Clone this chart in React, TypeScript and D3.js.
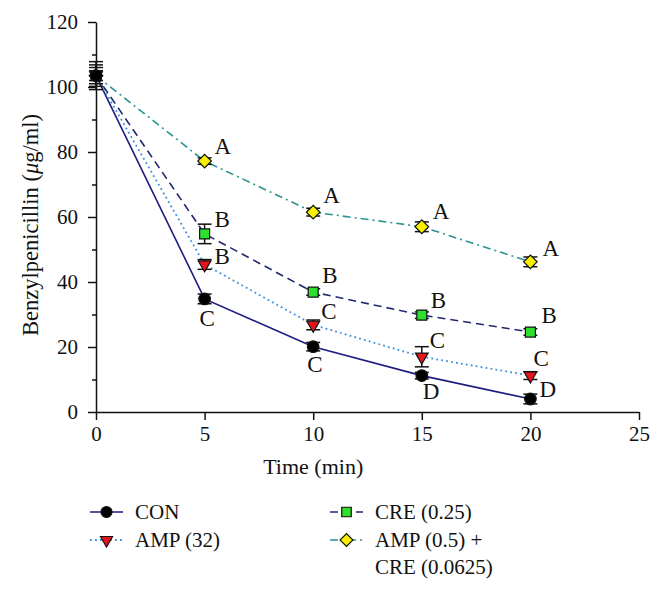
import React, { useEffect, useRef } from 'react';
import { axisBottom, axisLeft, line, range, scaleLinear, select, symbol, symbolCircle, symbolSquare, symbolTriangle } from 'd3';

// time points (min)
const times = [0, 5, 10, 15, 20];

// series values
const conValues = [103.5, 34.8, 20.1, 11.2, 4.0];
const conErrors = [4.3, 1.5, 1.3, 1.0, 1.5];
const ampValues = [103.5, 45.4, 26.8, 17.0, 11.2];
const ampErrors = [3.3, 1.5, 1.5, 3.1, 1.2];
const creValues = [103.5, 54.8, 36.9, 29.8, 24.6];
const creErrors = [2.5, 3.0, 1.0, 1.0, 1.0];
const comboValues = [103.5, 77.2, 61.5, 57.0, 46.2];
const comboErrors = [1.5, 1.0, 1.2, 1.5, 1.5];

// significance letters
const conLetters = ['', 'C', 'C', 'D', 'D'];
const ampLetters = ['', 'B', 'C', 'C', 'C'];
const creLetters = ['', 'B', 'B', 'B', 'B'];
const comboLetters = ['', 'A', 'A', 'A', 'A'];

const seriesNames = ['CON', 'AMP (32)', 'CRE (0.25)', 'AMP (0.5) +|CRE (0.0625)'];

const xTicks = [0, 5, 10, 15, 20, 25];
const yTicks = [0, 20, 40, 60, 80, 100, 120];

const W = 662, H = 589;
const margin = { left: 96, top: 22, right: 23, bottom: 177 };
const font = '"Liberation Serif", "Times New Roman", Times, serif';

// where each letter sits relative to its point [dx, dy]
const conOffsets = [[0, 0], [-5, 27], [-6, 25], [1, 23], [9, -2]];
const ampOffsets = [[0, 0], [10, 0], [8, -6], [8, -9], [3, -10]];
const creOffsets = [[0, 0], [10, -7], [9, -9], [9, -7], [11, -9]];
const comboOffsets = [[0, 0], [10, -7], [10, -9], [11, -8], [12, -6]];

const styles = [
  { values: conValues, errors: conErrors, letters: conLetters, offsets: conOffsets, stroke: '#1d1d80', dash: null, width: 1.6, shape: symbolCircle, size: 105, fill: '#000000', rot: 0 },
  { values: ampValues, errors: ampErrors, letters: ampLetters, offsets: ampOffsets, stroke: '#3b8fdc', dash: '1.8,3.2', width: 1.8, shape: symbolTriangle, size: 70, fill: '#e8141c', rot: 180 },
  { values: creValues, errors: creErrors, letters: creLetters, offsets: creOffsets, stroke: '#202870', dash: '8,5', width: 1.6, shape: symbolSquare, size: 100, fill: '#2ee02e', rot: 0 },
  { values: comboValues, errors: comboErrors, letters: comboLetters, offsets: comboOffsets, stroke: '#2a9393', dash: '8,4,2,4', width: 1.6, shape: symbolSquare, size: 92, fill: '#f8f000', rot: 45 },
];

export default function App() {
  const gRef = useRef<SVGGElement>(null);
  const width = W - margin.left - margin.right;
  const height = H - margin.top - margin.bottom;

  useEffect(() => {
    const g = select(gRef.current);
    g.selectAll('*').remove();

    const x = scaleLinear().domain([0, 25]).range([0, width]);
    const y = scaleLinear().domain([0, 120]).range([height, 0]);

    // axes
    const xa = g.append('g').attr('transform', `translate(0,${height})`)
      .call(axisBottom(x).tickValues(xTicks).tickSize(8).tickSizeOuter(0).tickPadding(6));
    const ya = g.append('g')
      .call(axisLeft(y).tickValues(yTicks).tickSize(8).tickSizeOuter(0).tickPadding(10));
    g.append('g')
      .call(axisLeft(y).tickValues(range(10, 120, 20)).tickSize(4).tickFormat(() => '').tickSizeOuter(0))
      .select('.domain').remove();
    [xa, ya].forEach((a) => {
      a.attr('font-family', null).attr('font-size', null);
      a.selectAll('text').style('font-family', font).style('font-size', '21px').attr('fill', '#111');
      a.select('.domain').attr('stroke', '#111').attr('stroke-width', 1.5);
    });
    g.selectAll('.tick line').attr('stroke', '#111').attr('stroke-width', 1.5);

    // titles
    g.append('text')
      .attr('x', x(10)).attr('y', height + 62)
      .attr('text-anchor', 'middle').style('font-family', font).style('font-size', '22px').attr('fill', '#111')
      .text('Time (min)');
    const yt = g.append('text')
      .attr('transform', `translate(${-58},${y(60) + 8}) rotate(-90)`)
      .attr('text-anchor', 'middle').style('font-family', font).style('font-size', '22.5px').attr('fill', '#111');
    yt.append('tspan').text('Benzylpenicillin (');
    yt.append('tspan').attr('font-style', 'italic').text('μ');
    yt.append('tspan').text('g/ml)');

    const ln = line<number>().x((_, i) => x(times[i])).y((d) => y(d));

    // lines
    styles.forEach((s) => {
      g.append('path').datum(s.values).attr('d', ln).attr('fill', 'none')
        .attr('stroke', s.stroke).attr('stroke-width', s.width)
        .attr('stroke-dasharray', s.dash as any);
    });

    // error bars + markers + letters
    styles.slice().reverse().forEach((s) => {
      s.values.forEach((v, i) => {
        const cx = x(times[i]);
        const e = s.errors[i];
        const eb = g.append('g').attr('stroke', '#111').attr('stroke-width', 1.5);
        eb.append('line').attr('x1', cx).attr('x2', cx).attr('y1', y(v - e)).attr('y2', y(v + e));
        [v - e, v + e].forEach((ev) => {
          eb.append('line').attr('x1', cx - 7).attr('x2', cx + 7).attr('y1', y(ev)).attr('y2', y(ev));
        });
        g.append('path')
          .attr('d', symbol(s.shape, s.size)())
          .attr('transform', `translate(${cx},${y(v)}) rotate(${s.rot})`)
          .attr('fill', s.fill).attr('stroke', '#111').attr('stroke-width', 1.2);
        if (s.letters[i]) {
          g.append('text')
            .attr('x', cx + s.offsets[i][0]).attr('y', y(v) + s.offsets[i][1])
            .style('font-family', font).style('font-size', '23px').attr('fill', '#111')
            .text(s.letters[i]);
        }
      });
    });

    // legend
    const legendPos = [[-6, 490], [-6, 518], [234, 490], [234, 518]];
    styles.forEach((s, i) => {
      const [lx, ly] = legendPos[i];
      const lg = g.append('g').attr('transform', `translate(${lx},${ly})`);
      lg.append('line').attr('x1', 0).attr('x2', 33).attr('y1', 0).attr('y2', 0)
        .attr('stroke', s.stroke).attr('stroke-width', s.width).attr('stroke-dasharray', s.dash as any);
      lg.append('path').attr('d', symbol(s.shape, s.size * 0.9)())
        .attr('transform', `translate(16.5,0) rotate(${s.rot})`)
        .attr('fill', s.fill).attr('stroke', '#111').attr('stroke-width', 1.2);
      seriesNames[i].split('|').forEach((t, j) => {
        lg.append('text').attr('x', 45).attr('y', 7 + j * 27)
          .style('font-family', font).style('font-size', '21px').attr('fill', '#111').text(t);
      });
    });
  }, []);

  return (
    <svg width={W} height={H} style={{ position: 'absolute', left: 0, top: 0, background: '#fff' }}>
      <g ref={gRef} transform={`translate(${margin.left},${margin.top})`} />
    </svg>
  );
}
